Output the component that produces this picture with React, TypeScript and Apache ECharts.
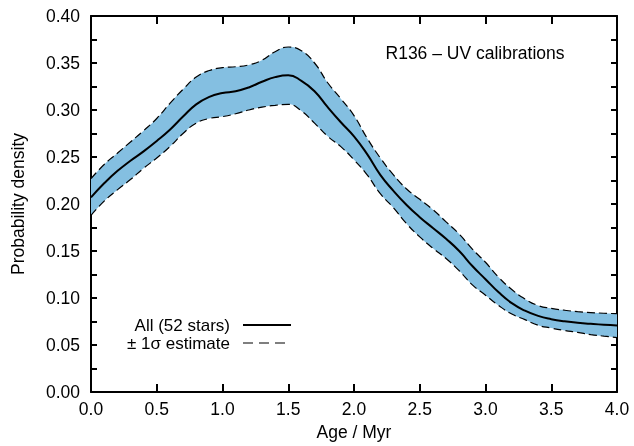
import React, { useEffect, useRef } from "react";
import * as echarts from "echarts";

const ages = [
  "0.0", "0.1", "0.2", "0.3", "0.4", "0.5", "0.6", "0.7", "0.8", "0.9",
  "1.0", "1.1", "1.2", "1.3", "1.4", "1.5", "1.6", "1.7", "1.8", "1.9",
  "2.0", "2.1", "2.2", "2.3", "2.4", "2.5", "2.6", "2.7", "2.8", "2.9",
  "3.0", "3.1", "3.2", "3.3", "3.4", "3.5", "3.6", "3.7", "3.8", "3.9",
  "4.0",
];

const central = [
  0.207, 0.222, 0.235, 0.246, 0.256, 0.267, 0.279, 0.293, 0.306, 0.314,
  0.318, 0.320, 0.324, 0.330, 0.335, 0.337, 0.331, 0.320, 0.303, 0.287,
  0.272, 0.253, 0.231, 0.214, 0.199, 0.186, 0.1745, 0.163, 0.150, 0.134,
  0.120, 0.106, 0.0945, 0.0865, 0.081, 0.0775, 0.0752, 0.0737, 0.0725, 0.0715,
  0.0708,
];

const upper = [
  0.227, 0.242, 0.254, 0.266, 0.278, 0.291, 0.307, 0.322, 0.335, 0.342,
  0.345, 0.346, 0.348, 0.353, 0.362, 0.367, 0.363, 0.350, 0.329, 0.312,
  0.294, 0.270, 0.249, 0.231, 0.216, 0.205, 0.194, 0.181, 0.168, 0.152,
  0.138, 0.122, 0.109, 0.099, 0.092, 0.089, 0.087, 0.0855, 0.0845, 0.0838,
  0.0833,
];

const lower = [
  0.188, 0.203, 0.215, 0.226, 0.238, 0.249, 0.261, 0.275, 0.286, 0.291,
  0.293, 0.296, 0.300, 0.303, 0.305, 0.306, 0.299, 0.286, 0.272, 0.261,
  0.247, 0.231, 0.211, 0.196, 0.179, 0.165, 0.153, 0.142, 0.129, 0.114,
  0.103, 0.092, 0.083, 0.077, 0.071, 0.068, 0.0655, 0.0635, 0.061, 0.0595,
  0.0578,
];

const titleText = "R136 \u2013 UV calibrations";
const legendMain = "All (52 stars)";
const legendBand = "\u00b1 1\u03c3 estimate";
const xName = "Age / Myr";
const yName = "Probability density";

const FONT = "'Liberation Sans', Arial, Helvetica, sans-serif";
const FS = 17.5;
const LFS = 17;
const BAND = "#84bfe1";

export default function App() {
  const ref = useRef<HTMLDivElement>(null);
  useEffect(() => {
    if (!ref.current) return;
    const chart = echarts.init(ref.current, undefined, { renderer: "svg" });
    const width = upper.map((u, i) => +(u - lower[i]).toFixed(4));
    const axisLine = { show: true, onZero: false, lineStyle: { color: "#000", width: 2 } };
    const yFmt = (v: number) => (Math.round(v * 1000) % 50 === 0 ? v.toFixed(2) : "");
    chart.setOption({
      animation: false,
      grid: { left: 91, right: 17, top: 16, bottom: 54, outerBoundsMode: "none", containLabel: false },
      xAxis: [
        {
          type: "category",
          data: ages,
          boundaryGap: false,
          position: "bottom",
          axisLine,
          axisTick: { show: true, inside: true, length: 8, interval: 4, lineStyle: { color: "#000", width: 2 } },
          axisLabel: { interval: 4, color: "#000", fontSize: FS, fontFamily: FONT, margin: 8 },
          splitLine: { show: false },
          name: xName,
          nameLocation: "middle",
          nameGap: 31,
          nameTextStyle: { color: "#000", fontSize: FS, fontFamily: FONT },
        },
        {
          type: "category",
          data: ages,
          boundaryGap: false,
          position: "top",
          axisLine,
          axisTick: { show: true, inside: true, length: 8, interval: 4, lineStyle: { color: "#000", width: 2 } },
          axisLabel: { show: false },
          splitLine: { show: false },
        },
      ],
      yAxis: [
        {
          type: "value",
          min: 0,
          max: 0.4,
          interval: 0.025,
          position: "left",
          axisLine,
          axisTick: { show: true, inside: true, length: 6, lineStyle: { color: "#000", width: 2 } },
          axisLabel: { color: "#000", fontSize: FS, fontFamily: FONT, margin: 11, formatter: yFmt },
          splitLine: { show: false },
          name: yName,
          nameLocation: "middle",
          nameGap: 64,
          nameRotate: 90,
          nameTextStyle: { color: "#000", fontSize: FS, fontFamily: FONT },
        },
        {
          type: "value",
          min: 0,
          max: 0.4,
          interval: 0.025,
          position: "right",
          axisLine,
          axisTick: { show: true, inside: true, length: 6, lineStyle: { color: "#000", width: 2 } },
          axisLabel: { show: false },
          splitLine: { show: false },
        },
      ],
      series: [
        {
          name: "base",
          type: "line",
          data: lower,
          stack: "band",
          smooth: true,
          symbol: "none",
          silent: true,
          lineStyle: { opacity: 0 },
        },
        {
          name: "band",
          type: "line",
          data: width,
          stack: "band",
          smooth: true,
          symbol: "none",
          silent: true,
          lineStyle: { opacity: 0 },
          areaStyle: { color: BAND, opacity: 1 },
        },
        {
          name: "upper",
          type: "line",
          data: upper,
          smooth: true,
          symbol: "none",
          lineStyle: { color: "#000", width: 1.2, type: [8, 4] },
        },
        {
          name: "lower",
          type: "line",
          data: lower,
          smooth: true,
          symbol: "none",
          lineStyle: { color: "#000", width: 1.2, type: [8, 4] },
        },
        {
          name: legendMain,
          type: "line",
          data: central,
          smooth: true,
          symbol: "none",
          lineStyle: { color: "#000", width: 2 },
          z: 5,
        },
      ],
      graphic: [
        {
          type: "text",
          x: 475,
          y: 53,
          style: { text: titleText, fill: "#000", font: `${FS}px ${FONT}`, align: "center", verticalAlign: "middle" },
        },
        {
          type: "text",
          x: 230,
          y: 325,
          style: { text: legendMain, fill: "#000", font: `${LFS}px ${FONT}`, align: "right", verticalAlign: "middle" },
        },
        {
          type: "line",
          shape: { x1: 243, y1: 325, x2: 291, y2: 325 },
          style: { stroke: "#000", lineWidth: 2 },
        },
        {
          type: "text",
          x: 230,
          y: 343,
          style: { text: legendBand, fill: "#000", font: `${LFS}px ${FONT}`, align: "right", verticalAlign: "middle" },
        },
        {
          type: "line",
          shape: { x1: 243, y1: 343, x2: 291, y2: 343 },
          style: { stroke: "#000", lineWidth: 1.2, lineDash: [10, 6] },
        },
      ],
    });
    return () => chart.dispose();
  }, []);
  return <div ref={ref} style={{ position: "fixed", left: 0, top: 0, width: 634, height: 446 }} />;
}
